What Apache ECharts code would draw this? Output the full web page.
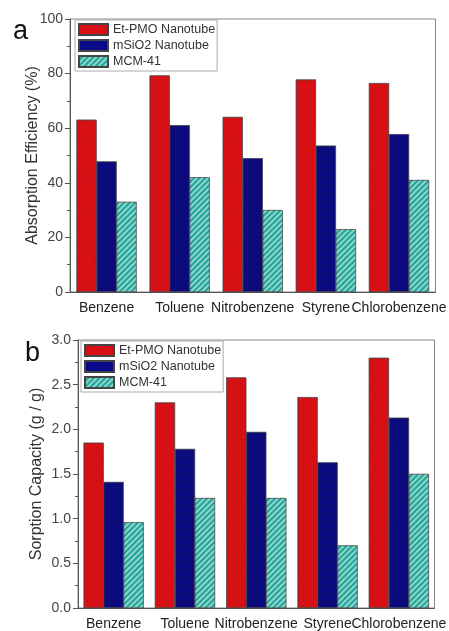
<!DOCTYPE html>
<html>
<head>
<meta charset="utf-8">
<script src="https://cdn.jsdelivr.net/npm/echarts@6/dist/echarts.min.js"></script>
<style>
  html, body { margin: 0; padding: 0; background: #fff; }
  #chart { width: 449px; height: 631px; }
</style>
</head>
<body>
<div id="chart"></div>
<script>
var categories = ["Benzene", "Toluene", "Nitrobenzene", "Styrene", "Chlorobenzene"];
var seriesNames = ["Et-PMO Nanotube", "mSiO2 Nanotube", "MCM-41"];

// panel a: absorption efficiency (%)
var effPMO = [63.1, 79.3, 64.1, 77.8, 76.5];
var effSiO2 = [47.8, 61.1, 49.0, 53.6, 57.8];
var effMCM = [33.0, 42.0, 30.0, 23.0, 41.0];

// panel b: sorption capacity (g / g)
var capPMO = [1.85, 2.30, 2.58, 2.36, 2.80];
var capSiO2 = [1.41, 1.78, 1.97, 1.63, 2.13];
var capMCM = [0.96, 1.23, 1.23, 0.70, 1.50];

var colors = ["#de1216", "#0b0b8c", "#22a397"];
var decals = [
  { symbol: "rect", color: "rgba(120,0,0,0.22)", dashArrayX: [1, 0], dashArrayY: [1, 2], rotation: -Math.PI / 4 },
  { symbol: "rect", color: "rgba(0,0,40,0.35)", dashArrayX: [1, 1], dashArrayY: [1, 1], rotation: 0 },
  { symbol: "rect", color: "rgba(230,255,250,0.55)", dashArrayX: [1, 0], dashArrayY: [2, 2], rotation: -Math.PI / 4 }
];
var font = "Arial, 'Liberation Sans', sans-serif";

function makeBars(data, idx) {
  return [0, 1, 2].map(function (i) {
    return {
      name: seriesNames[i],
      type: "bar",
      xAxisIndex: idx,
      yAxisIndex: idx,
      data: data[i],
      barWidth: 20,
      barGap: "0%",
      itemStyle: { color: colors[i], borderColor: "#444", borderWidth: 0.5, decal: decals[i] }
    };
  });
}

function xAx(idx) {
  return {
    type: "category",
    gridIndex: idx,
    data: categories,
    axisLine: { lineStyle: { color: "#555" } },
    axisTick: { alignWithLabel: true, length: 5, lineStyle: { color: "#555" } },
    axisLabel: { interval: 0, color: "#222", fontSize: 14, fontFamily: font, margin: 9 }
  };
}

function yAx(idx, name, max, step, gap, fmt) {
  return {
    type: "value",
    gridIndex: idx,
    min: 0,
    max: max,
    interval: step,
    name: name,
    nameLocation: "middle",
    nameGap: gap,
    nameMoveOverlap: false,
    nameTextStyle: { color: "#333", fontSize: 16, fontFamily: font },
    axisLine: { show: true, lineStyle: { color: "#555" } },
    axisTick: { show: true, length: 5, lineStyle: { color: "#555" } },
    minorTick: { show: true, splitNumber: 2, length: 3, lineStyle: { color: "#555" } },
    splitLine: { show: false },
    axisLabel: { color: "#444", fontSize: 14, fontFamily: font, margin: 7, formatter: fmt }
  };
}

function legend(top, left) {
  return {
    top: top,
    left: left,
    orient: "vertical",
    data: seriesNames,
    icon: "rect",
    itemWidth: 29,
    itemHeight: 11,
    itemGap: 3,
    padding: [3, 2, 3, 3],
    borderColor: "#aaa",
    borderWidth: 1,
    borderRadius: 0,
    backgroundColor: "#fff",
    textStyle: { color: "#333", fontSize: 12.5, lineHeight: 13, fontFamily: font },
    selectedMode: false
  };
}

var chart = echarts.init(document.getElementById("chart"));
chart.setOption({
  animation: false,
  backgroundColor: "#fff",
  title: [
    { text: "a", left: 8, top: 13, textStyle: { fontSize: 27, fontWeight: "normal", color: "#111", fontFamily: font } },
    { text: "b", left: 20, top: 335, textStyle: { fontSize: 27, fontWeight: "normal", color: "#111", fontFamily: font } }
  ],
  grid: [
    { left: 70, right: 9, top: 19, height: 273, show: true, borderColor: "#888", borderWidth: 1, backgroundColor: "transparent" },
    { left: 78, right: 11, top: 340, height: 269, show: true, borderColor: "#888", borderWidth: 1, backgroundColor: "transparent" }
  ],
  legend: [legend(20, 75), legend(341, 81)],
  xAxis: [xAx(0), xAx(1)],
  yAxis: [
    yAx(0, "Absorption Efficiency (%)", 100, 20, 29, null),
    yAx(1, "Sorption Capacity (g / g)", 3, 0.5, 33, function (v) { return v.toFixed(1); })
  ],
  series: makeBars([effPMO, effSiO2, effMCM], 0).concat(makeBars([capPMO, capSiO2, capMCM], 1))
});
</script>
</body>
</html>
